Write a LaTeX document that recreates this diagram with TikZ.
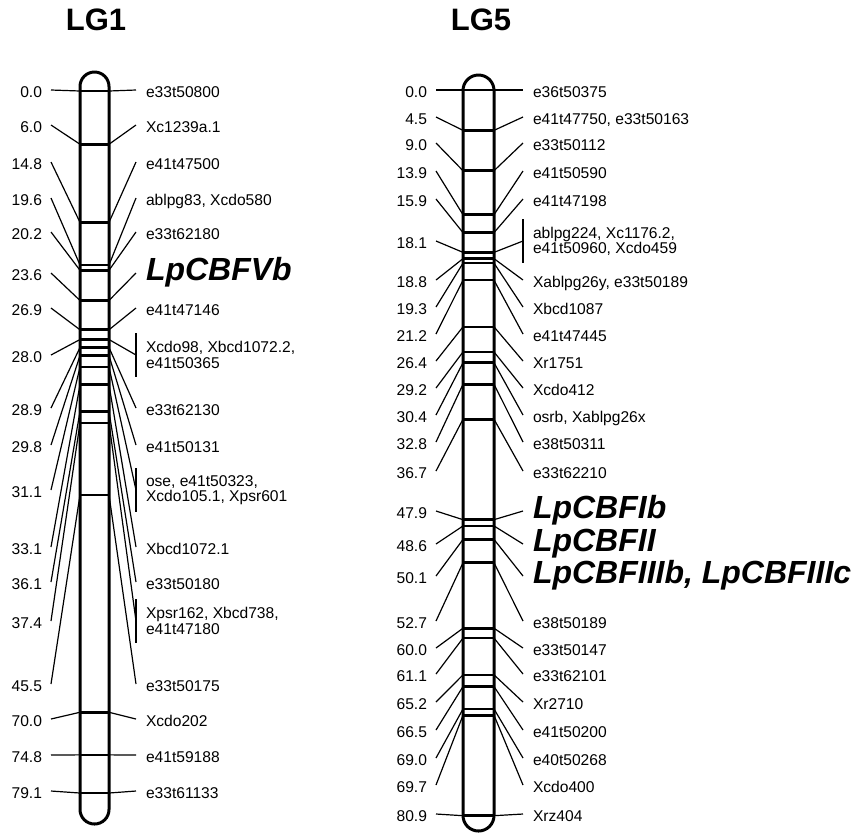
\documentclass[tikz,border=0pt]{standalone}
\usepackage{fontspec}
\setmainfont{Liberation Sans}

\begin{document}
\begin{tikzpicture}[x=0.5pt, y=-0.5pt,
    chrom/.style={line width=1.5pt},
    band/.style={line width=1.3pt},
    link/.style={line width=0.6pt},
    num/.style={anchor=east, inner sep=0pt, outer sep=4.5pt,
      font=\fontsize{7.8}{7.6}\selectfont, text height=0.72em, text depth=0pt},
    mk/.style={anchor=west, inner sep=0pt, outer sep=5pt,
      font=\fontsize{7.8}{7.6}\selectfont, text height=0.72em, text depth=0pt},
    mktwo/.style={anchor=west, inner sep=0pt, outer sep=5pt,
      font=\fontsize{7.8}{7.6}\selectfont, align=left},
    gene/.style={anchor=west, inner sep=0pt, outer sep=5pt,
      font=\fontsize{16}{17}\selectfont\bfseries\itshape, text height=0.72em, text depth=0pt},
    lg/.style={font=\fontsize{15.5}{17}\selectfont\bfseries}]
    \useasboundingbox (0,0) rectangle (855,832);

    \node[lg] (t1) at (96,20) {LG1};
    \node[lg] (t5) at (481,20) {LG5};

    % LG1
    \foreach \cm/\yy/\sty/\lab [count=\k] in {
        0.0/90/mk/e33t50800, 6.0/125/mk/Xc1239a.1, 14.8/162/mk/e41t47500,
        19.6/198/mk/{ablpg83, Xcdo580}, 20.2/232/mk/e33t62180, 23.6/273/gene/LpCBFVb,
        26.9/308/mk/e41t47146, 28.0/355/mktwo/{Xcdo98, Xbcd1072.2,\\e41t50365},
        28.9/408/mk/e33t62130, 29.8/445/mk/e41t50131,
        31.1/490/mktwo/{ose, e41t50323,\\Xcdo105.1, Xpsr601},
        33.1/547/mk/Xbcd1072.1, 36.1/582/mk/e33t50180,
        37.4/621/mktwo/{Xpsr162, Xbcd738,\\e41t47180},
        45.5/684/mk/e33t50175, 70.0/719/mk/Xcdo202, 74.8/755/mk/e41t59188,
        79.1/791/mk/e33t61133}{
      \coordinate (l1-\k) at (80,91+8.875*\cm);
      \coordinate (r1-\k) at (109,91+8.875*\cm);
      \draw[band] (l1-\k) -- (r1-\k);
      \node[num] (n1-\k) at (51,\yy) {\cm};
      \node[\sty] (m1-\k) at (136,\yy) {\lab};
      \draw[link] (n1-\k.east) -- (l1-\k);
      \draw[link] (r1-\k) -- (m1-\k.west);
    }
    \draw[chrom, rounded corners=7.25pt] (80,72) rectangle (109,824);
    \draw[link] ([yshift=11pt]m1-8.west) -- ([yshift=-11pt]m1-8.west);
    \draw[link] ([yshift=11pt]m1-11.west) -- ([yshift=-11pt]m1-11.west);
    \draw[link] ([yshift=11pt]m1-14.west) -- ([yshift=-11pt]m1-14.west);

    % LG5
    \foreach \cm/\yy/\sty/\lab [count=\k] in {
        0.0/90/mk/e36t50375, 4.5/117/mk/{e41t47750, e33t50163}, 9.0/143/mk/e33t50112,
        13.9/171/mk/e41t50590, 15.9/199/mk/e41t47198,
        18.1/241/mktwo/{ablpg224, Xc1176.2,\\e41t50960, Xcdo459},
        18.8/280/mk/{Xablpg26y, e33t50189}, 19.3/307/mk/Xbcd1087, 21.2/334/mk/e41t47445,
        26.4/361/mk/Xr1751, 29.2/388/mk/Xcdo412, 30.4/415/mk/{osrb, Xablpg26x},
        32.8/442/mk/e38t50311, 36.7/471/mk/e33t62210,
        47.9/511/gene/LpCBFIb, 48.6/544/gene/LpCBFII, 50.1/576/gene/{LpCBFIIIb, LpCBFIIIc},
        52.7/621/mk/e38t50189, 60.0/648/mk/e33t50147, 61.1/674/mk/e33t62101,
        65.2/702/mk/Xr2710, 66.5/730/mk/e41t50200, 69.0/758/mk/e40t50268,
        69.7/785/mk/Xcdo400, 80.9/814/mk/Xrz404}{
      \coordinate (l5-\k) at (463,90+8.97*\cm);
      \coordinate (r5-\k) at (494,90+8.97*\cm);
      \draw[band] (l5-\k) -- (r5-\k);
      \node[num] (n5-\k) at (436,\yy) {\cm};
      \node[\sty] (m5-\k) at (523,\yy) {\lab};
      \draw[link] (n5-\k.east) -- (l5-\k);
      \draw[link] (r5-\k) -- (m5-\k.west);
    }
    \draw[chrom, rounded corners=7.75pt] (463,75) rectangle (494,831);
    \draw[link] ([yshift=11pt]m5-6.west) -- ([yshift=-11pt]m5-6.west);
  \end{tikzpicture}
\end{document}
